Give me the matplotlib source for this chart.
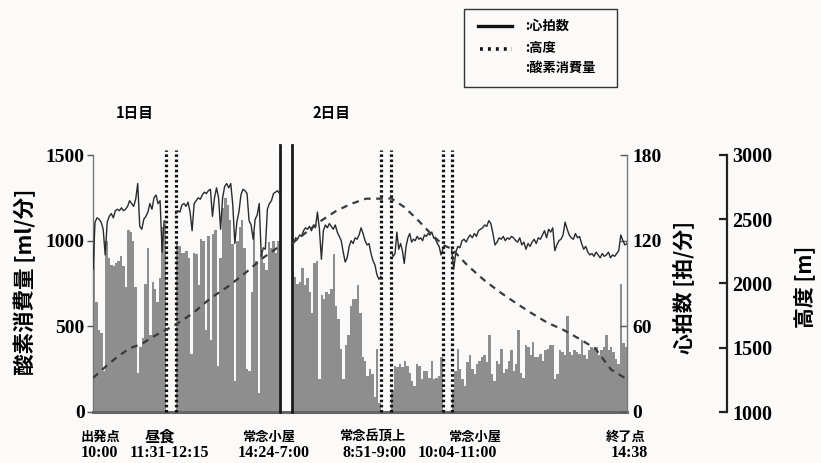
import numpy as np
import matplotlib
matplotlib.use("Agg")
import matplotlib.pyplot as plt
from matplotlib.lines import Line2D
from matplotlib.patches import Rectangle

plt.rcParams['font.family'] = ['Noto Sans CJK JP', 'DejaVu Sans']
SERIF = ['Liberation Serif', 'DejaVu Serif']

# ---- data -------------------------------------------------------------
# walking segments (minutes): 10:00-11:31, 12:15-14:24, 7:00-8:51, 9:00-10:04, 11:00-14:38
seg_minutes = [91, 129, 111, 64, 218]

# oxygen consumption [ml/min], evenly spread over each segment
o2_A = [1090, 640, 480, 460, 240, 1000, 900, 860, 850, 870, 880, 910, 850, 730, 1060,
        1050, 1000, 730, 230, 380, 430, 750, 960, 450, 760, 720, 640, 780, 1080, 1100]
o2_B = [990, 970, 930, 930, 940, 900, 340, 930, 920, 740, 1010, 1000, 480, 1030, 420,
        1040, 1060, 270, 900, 1190, 1250, 1210, 1120, 980, 180, 1000, 1080, 1120, 960,
        250, 240, 700, 1050, 880, 110, 920, 870, 830, 990, 960, 1000, 930, 1000]
o2_C = [810, 790, 750, 760, 840, 740, 780, 700, 580, 870, 880, 190, 680, 660, 700, 690,
        720, 920, 620, 540, 370, 190, 390, 450, 620, 660, 660, 740, 580, 320, 300, 210,
        250, 220, 90, 370, 50]
o2_D = [130, 270, 260, 280, 260, 300, 270, 230, 180, 150, 280, 270, 190, 240, 240, 200,
        300, 190, 200, 210, 320]
o2_E = [120, 240, 370, 250, 190, 150, 290, 330, 250, 220, 280, 300, 320, 330, 290, 450,
        220, 180, 300, 280, 370, 230, 250, 300, 360, 240, 280, 480, 230, 200, 390, 380,
        330, 410, 320, 320, 340, 300, 360, 370, 390, 390, 190, 220, 360, 350, 330, 560,
        350, 330, 360, 350, 340, 420, 330, 310, 360, 380, 370, 380, 330, 360, 380, 450,
        360, 380, 350, 310, 280, 750, 400, 380]

# heart rate [beats/min]
hr_A = [100, 133, 136, 135, 133, 128, 110, 133, 137, 139, 136, 141, 142, 141, 143, 141,
        142, 144, 148, 146, 144, 149, 160, 130, 128, 135, 137, 140, 146, 142, 150, 152,
        146, 148, 112, 134, 133]
hr_B = [139, 141, 140, 145, 146, 144, 147, 140, 127, 146, 148, 150, 149, 152, 154, 153,
        155, 156, 137, 150, 157, 150, 128, 150, 158, 160, 157, 160, 145, 118, 133, 140,
        152, 156, 155, 153, 134, 131, 121, 135, 138, 146, 109, 115, 114, 142, 146, 148,
        153, 154, 155, 153]
hr_C = [117, 118, 122, 121, 124, 123, 127, 129, 128, 130, 127, 131, 129, 140, 128, 107,
        127, 131, 129, 132, 130, 128, 131, 126, 123, 120, 112, 105, 108, 116, 120, 118,
        122, 121, 124, 129, 125, 120, 117, 118, 111, 106, 103, 96, 93, 95]
hr_D = [112, 109, 111, 126, 114, 118, 113, 104, 116, 122, 125, 119, 121, 120, 123, 121,
        122, 120, 124, 123, 125, 124, 126, 122, 121, 118, 116, 110, 114]
hr_E = [114, 100, 112, 116, 115, 120, 121, 119, 122, 124, 122, 125, 123, 127, 128, 129,
        131, 130, 134, 132, 125, 117, 119, 122, 121, 123, 120, 122, 121, 123, 122, 120,
        119, 122, 117, 119, 114, 118, 116, 119, 121, 118, 122, 121, 124, 127, 122, 128,
        126, 129, 113, 117, 120, 121, 124, 133, 128, 124, 122, 121, 125, 122, 123, 118,
        114, 116, 112, 110, 111, 109, 112, 110, 108, 111, 109, 110, 112, 108, 110, 109,
        111, 113, 124, 120, 117, 118]

# altitude [m]
alt_A = [1265, 1350, 1430, 1495, 1530, 1590, 1640]
alt_B = [1680, 1770, 1885, 1975, 2080, 2195, 2290]
alt_C = [2310, 2400, 2490, 2565, 2620, 2660, 2660]
alt_D = [2662, 2595, 2500, 2395, 2300]
alt_E = [2270, 2140, 2030, 1935, 1850, 1770, 1695, 1640, 1570, 1495, 1330, 1255]

o2_ticks = [0, 500, 1000, 1500]
hr_ticks = [0, 60, 120, 180]
alt_ticks = [1000, 1500, 2000, 2500, 3000]

place_names = ['出発点', '昼食', '常念小屋', '常念岳頂上', '常念小屋', '終了点']
place_times = ['10:00', '11:31-12:15', '14:24-7:00', '8:51-9:00', '10:04-11:00', '14:38']

# ---- layout of the compressed time axis -------------------------------
gap_minutes = [12, 15, 13, 11]
starts = []
pos = 0.0
for i, m in enumerate(seg_minutes):
    starts.append(pos)
    pos += m
    if i < len(gap_minutes):
        pos += gap_minutes[i]
total = pos
ends = [s + m for s, m in zip(starts, seg_minutes)]

W, H = 821, 463
fig = plt.figure(figsize=(W / 100, H / 100), dpi=100, facecolor='#fbfaf8')
ax = fig.add_axes([93 / W, 51 / H, 534 / W, 257 / H])
ax.set_facecolor('none')
ax.set_xlim(0, total)
ax.set_ylim(0, 1500)

# oxygen bars
for s, m, vals in zip(starts, seg_minutes, [o2_A, o2_B, o2_C, o2_D, o2_E]):
    n = len(vals)
    w = m / n
    x = s + w * (np.arange(n) + 0.5)
    ax.bar(x, vals, width=w, color='#8e8e8e', linewidth=0, zorder=1)

# break markers
for xv in [ends[0], starts[1], ends[2], starts[3], ends[3], starts[4]]:
    ax.plot([xv, xv], [0, 1530], color='#111111', lw=2.3, ls=(0, (0.8, 0.8)),
            clip_on=False, zorder=5, solid_capstyle='butt')
for xv in [ends[1], starts[2]]:
    ax.plot([xv, xv], [0, 1560], color='#1a1a1a', lw=2.0, clip_on=False, zorder=5)

ax.spines['top'].set_visible(False)
ax.spines['right'].set_visible(False)
ax.spines['left'].set_color('#777777')
ax.spines['left'].set_linewidth(1.0)
ax.spines['bottom'].set_color('#666666')
ax.spines['bottom'].set_linewidth(2.2)
ax.set_xticks([])
ax.set_yticks(o2_ticks)
ax.tick_params(axis='y', direction='out', length=4, width=1, color='#555555', pad=2)
for lab in ax.get_yticklabels():
    lab.set_fontfamily(SERIF)
    lab.set_fontweight('bold')
    lab.set_fontsize(14)

# heart rate
ax2 = ax.twinx()
ax2.set_ylim(0, 180)
for s, m, vals in zip(starts, seg_minutes, [hr_A, hr_B, hr_C, hr_D, hr_E]):
    x = np.linspace(s, s + m, len(vals))
    ax2.plot(x, vals, color='#2b2b2b', lw=1.0, zorder=3)
ax2.set_yticks(hr_ticks)
ax2.tick_params(axis='y', direction='in', length=5, width=1, color='#555555', pad=4)
for sp in ['top', 'left', 'bottom']:
    ax2.spines[sp].set_visible(False)
ax2.spines['right'].set_color('#777777')
ax2.spines['right'].set_linewidth(1.0)
for lab in ax2.get_yticklabels():
    lab.set_fontfamily(SERIF)
    lab.set_fontweight('bold')
    lab.set_fontsize(14)

# altitude
ax3 = ax.twinx()
ax3.set_ylim(1000, 3000)
day1_x = np.concatenate([np.linspace(starts[0], ends[0], len(alt_A)),
                         np.linspace(starts[1], ends[1], len(alt_B))])
day2_x = np.concatenate([np.linspace(starts[2], ends[2], len(alt_C)),
                         np.linspace(starts[3], ends[3], len(alt_D)),
                         np.linspace(starts[4], ends[4], len(alt_E))])
ax3.plot(day1_x, alt_A + alt_B, color='#3a3a3a', lw=1.6, ls=(0, (3, 2.5)), zorder=4)
ax3.plot(day2_x, alt_C + alt_D + alt_E, color='#3a3a3a', lw=1.6, ls=(0, (3, 2.5)), zorder=4)
for sp in ['top', 'left', 'bottom']:
    ax3.spines[sp].set_visible(False)
ax3.spines['right'].set_position(('outward', 72))
ax3.spines['right'].set_color('#222222')
ax3.spines['right'].set_linewidth(1.6)
ax3.set_yticks(alt_ticks)
ax3.tick_params(axis='y', direction='in', length=6, width=1.6, color='#222222', pad=4)
for lab in ax3.get_yticklabels():
    lab.set_fontfamily(SERIF)
    lab.set_fontweight('bold')
    lab.set_fontsize(14.5)

# axis titles
fig.text(25 / W, 1 - 282 / H, '酸素消費量 [ml/分]', rotation=90, ha='center', va='center',
         fontsize=15.5, fontweight='bold')
fig.text(684 / W, 1 - 287 / H, '心拍数 [拍/分]', rotation=90, ha='center', va='center',
         fontsize=15, fontweight='bold')
fig.text(805 / W, 1 - 287 / H, '高度 [m]', rotation=90, ha='center', va='center',
         fontsize=15, fontweight='bold')

# day headings
fig.text(135 / W, 1 - 113 / H, '1日目', ha='center', va='center', fontsize=10.5, fontweight='bold')
fig.text(331 / W, 1 - 113 / H, '2日目', ha='center', va='center', fontsize=10.5, fontweight='bold')

# place / time labels below the axis
px_per_unit = 534 / total
anchors = [starts[0], (ends[0] + starts[1]) / 2, (ends[1] + starts[2]) / 2,
           (ends[2] + starts[3]) / 2, (ends[3] + starts[4]) / 2, ends[4]]
name_dx = [7, -11, -17, -14, 27, -1]
time_dx = [6, -2, -12, -12, 10, 2]
trans = ax.get_xaxis_transform()
for a, nm, tm, dn, dt in zip(anchors, place_names, place_times, name_dx, time_dx):
    ax.text(a + dn / px_per_unit, -25 / 257, nm, transform=trans, ha='center', va='center',
            fontsize=11 if nm == '昼食' else 9.5, fontweight='bold')
    ax.text(a + dt / px_per_unit, -41 / 257, tm, transform=trans, ha='center', va='center',
            fontsize=11.5, fontweight='bold', family=SERIF)

# legend box
fig.patches.append(Rectangle((464 / W, 1 - 87 / H), (617 - 464) / W, (87 - 9) / H,
                             transform=fig.transFigure, fill=False, edgecolor='#333333', lw=1.0))
fig.lines.append(Line2D([478 / W, 512 / W], [1 - 26 / H, 1 - 26 / H], transform=fig.transFigure,
                        color='#111111', lw=2.4))
fig.lines.append(Line2D([480 / W, 512 / W], [1 - 49 / H, 1 - 49 / H], transform=fig.transFigure,
                        color='#111111', lw=2.6, ls=(0, (0.8, 1.4))))
for yy, t in [(26, ':心拍数'), (48, ':高度'), (68, ':酸素消費量')]:
    fig.text(525 / W, 1 - yy / H, t, ha='left', va='center', fontsize=9.5, fontweight='bold')

fig.savefig('out.png', dpi=100, facecolor=fig.get_facecolor())
